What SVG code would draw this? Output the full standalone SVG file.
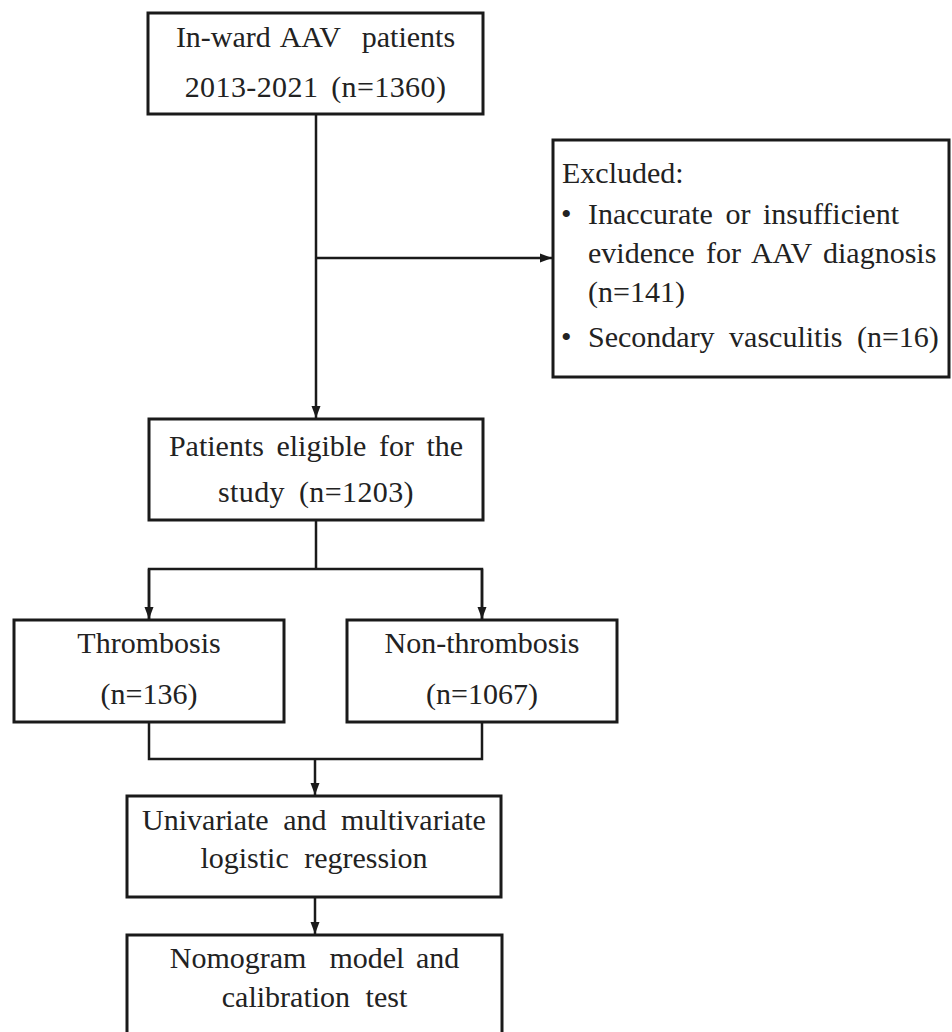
<svg xmlns="http://www.w3.org/2000/svg" width="952" height="1032" viewBox="0 0 952 1032">
<defs>
<style>
.box{fill:#ffffff;stroke:#1a1a1a;stroke-width:3}
.con{fill:none;stroke:#1a1a1a;stroke-width:2.5}
.t{font-family:"Liberation Serif","Times New Roman",serif;font-size:30px;fill:#222222}
.c{text-anchor:middle}
</style>
<marker id="arr" markerUnits="userSpaceOnUse" markerWidth="12" markerHeight="10" refX="12" refY="5" orient="auto">
<path d="M0,0.5 L12,5 L0,9.5 Z" fill="#1a1a1a"/>
</marker>
</defs>
<rect width="952" height="1032" fill="#ffffff"/>
<g id="connectors">
<line class="con" x1="316" y1="114" x2="316" y2="418" marker-end="url(#arr)"/>
<line class="con" x1="316" y1="258" x2="552" y2="258" marker-end="url(#arr)"/>
<line class="con" x1="316" y1="520" x2="316" y2="569"/>
<polyline class="con" points="149,619 149,569 482,569 482,619"/>
<line class="con" x1="149" y1="569" x2="149" y2="619" marker-end="url(#arr)"/>
<line class="con" x1="482" y1="569" x2="482" y2="619" marker-end="url(#arr)"/>
<polyline class="con" points="149,722 149,759 482,759 482,722"/>
<line class="con" x1="315" y1="759" x2="315" y2="795" marker-end="url(#arr)"/>
<line class="con" x1="315" y1="897" x2="315" y2="934" marker-end="url(#arr)"/>
</g>
<g id="node-inward">
<rect class="box" x="148" y="13" width="335" height="101"/>
<text class="t c" x="315.5" y="47" word-spacing="3">In-ward AAV&#160; patients</text>
<text class="t c" x="315.5" y="97" word-spacing="5" letter-spacing="0.4">2013-2021 (n=1360)</text>
</g>
<g id="node-excluded">
<rect class="box" x="553" y="140" width="396" height="237"/>
<text class="t" x="562" y="183">Excluded:</text>
<text class="t" x="561" y="224">•</text>
<text class="t" x="588" y="224" word-spacing="5">Inaccurate or insufficient</text>
<text class="t" x="588" y="263" word-spacing="4">evidence for AAV diagnosis</text>
<text class="t" x="588" y="302">(n=141)</text>
<text class="t" x="561" y="347">•</text>
<text class="t" x="588" y="347" word-spacing="7">Secondary vasculitis (n=16)</text>
</g>
<g id="node-eligible">
<rect class="box" x="149" y="419" width="334" height="101"/>
<text class="t c" x="316" y="456" word-spacing="5">Patients eligible for the</text>
<text class="t c" x="316" y="502" word-spacing="6" letter-spacing="0.4">study (n=1203)</text>
</g>
<g id="node-thrombosis">
<rect class="box" x="14" y="620" width="270" height="102"/>
<text class="t c" x="149" y="653">Thrombosis</text>
<text class="t c" x="149" y="704">(n=136)</text>
</g>
<g id="node-nonthrombosis">
<rect class="box" x="347" y="620" width="270" height="102"/>
<text class="t c" x="482" y="653">Non-thrombosis</text>
<text class="t c" x="482" y="704">(n=1067)</text>
</g>
<g id="node-regression">
<rect class="box" x="127" y="796" width="374" height="101"/>
<text class="t c" x="314" y="830" word-spacing="7">Univariate and multivariate</text>
<text class="t c" x="314" y="868" word-spacing="8">logistic regression</text>
</g>
<g id="node-nomogram">
<rect class="box" x="127" y="935" width="375" height="110"/>
<text class="t c" x="314.5" y="968" word-spacing="4">Nomogram&#160; model and</text>
<text class="t c" x="314.5" y="1007" word-spacing="8">calibration test</text>
</g>
</svg>
